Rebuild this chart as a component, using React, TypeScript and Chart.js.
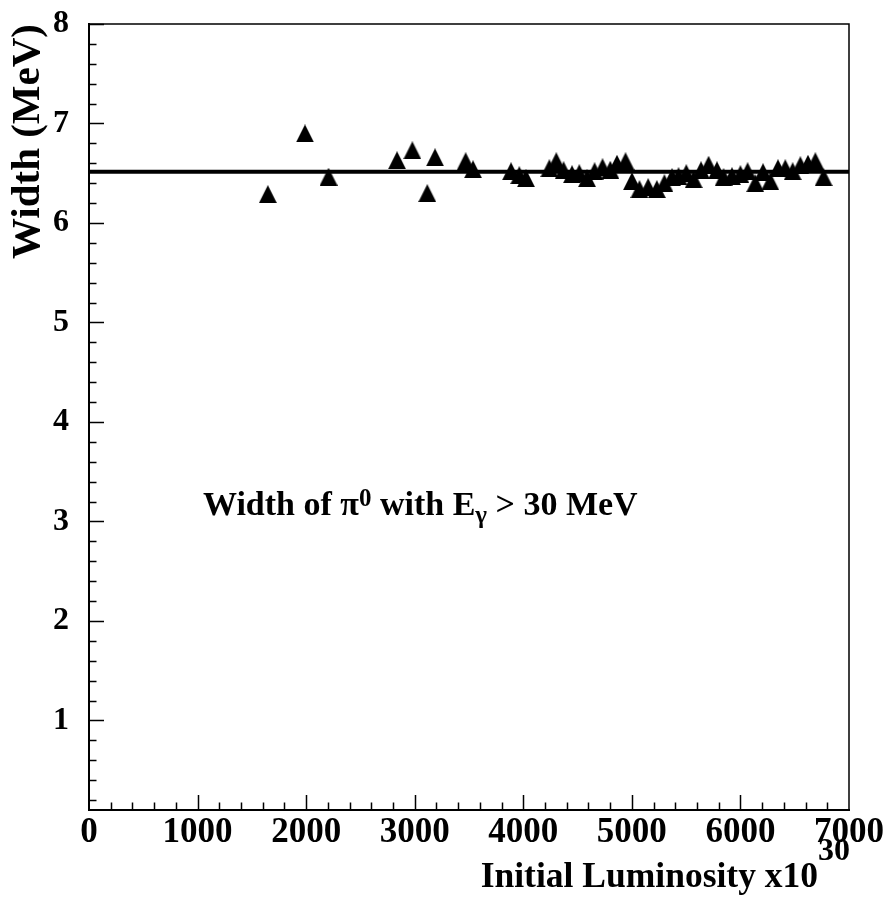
import React, { useEffect, useRef } from 'react';
import { Chart, registerables } from 'chart.js';

Chart.register(...registerables);

// ---- data ----
const lumi = [1647, 1989, 2206, 2837, 2978, 3116, 3187, 3469, 3537, 3887, 3963, 4025, 4240, 4304, 4371, 4449, 4516, 4587, 4657, 4730, 4801, 4863, 4942, 5001, 5070, 5150, 5230, 5300, 5370, 5430, 5501, 5569, 5637, 5707, 5784, 5845, 5922, 6000, 6066, 6137, 6208, 6275, 6346, 6413, 6481, 6552, 6622, 6690, 6766];
const widthMeV = [6.29, 6.9, 6.465, 6.63, 6.73, 6.3, 6.66, 6.62, 6.54, 6.52, 6.48, 6.45, 6.55, 6.62, 6.53, 6.49, 6.5, 6.45, 6.52, 6.56, 6.535, 6.595, 6.62, 6.42, 6.34, 6.36, 6.34, 6.4, 6.46, 6.47, 6.5, 6.44, 6.53, 6.585, 6.53, 6.46, 6.47, 6.49, 6.52, 6.4, 6.51, 6.42, 6.55, 6.55, 6.52, 6.58, 6.595, 6.62, 6.46];
const fitWidth = 6.515;

const xRange = [0, 7000];
const xStep = 200;
const xMajor = 1000;
const yRange = [0.1, 8];
const yStep = 0.2;
const yMajor = 1;

const yTitle = 'Width (MeV)';
const xTitleMain = 'Initial Luminosity x10';
const xTitleSup = '30';
const noteParts = ['Width of ', 'π', '0', ' with E', 'γ', ' > 30 MeV'];
const noteAnchor = { x: 1050, y: 3.07 };

const FONT = '"Liberation Serif", "Times New Roman", Times, serif';

function makeTriangle(size: number): HTMLCanvasElement {
  const c = document.createElement('canvas');
  c.width = size;
  c.height = size;
  const g = c.getContext('2d')!;
  g.fillStyle = '#000';
  g.beginPath();
  g.moveTo(0, size);
  g.lineTo(size, size);
  g.lineTo(size / 2, 0);
  g.closePath();
  g.fill();
  return c;
}

function isMultiple(v: number, m: number) {
  const r = v / m;
  return Math.abs(r - Math.round(r)) < 1e-6;
}

const framePlugin = {
  id: 'rootFrame',
  afterDraw(chart: any) {
    const { ctx, chartArea: a, scales } = chart;
    const xs = scales.x;
    const ys = scales.y;
    ctx.save();
    ctx.strokeStyle = '#000';
    // top and right frame
    ctx.lineWidth = 1.5;
    ctx.beginPath();
    ctx.moveTo(a.left, a.top);
    ctx.lineTo(a.right, a.top);
    ctx.lineTo(a.right, a.bottom);
    ctx.stroke();
    // inward ticks
    ctx.lineWidth = 1.5;
    ctx.beginPath();
    xs.ticks.forEach((t: any) => {
      const v = t.value;
      if (v <= xRange[0] || v >= xRange[1]) return;
      const px = Math.round(xs.getPixelForValue(v)) + 0.5;
      const len = isMultiple(v, xMajor) ? 15 : 7.5;
      ctx.moveTo(px, a.bottom);
      ctx.lineTo(px, a.bottom - len);
    });
    ys.ticks.forEach((t: any) => {
      const v = t.value;
      if (v <= yRange[0] + 1e-6) return;
      const py = Math.round(ys.getPixelForValue(v)) + 0.5;
      const len = isMultiple(v, yMajor) ? 15 : 7.5;
      ctx.moveTo(a.left, py);
      ctx.lineTo(a.left + len, py);
    });
    ctx.stroke();

    ctx.fillStyle = '#000';
    ctx.textBaseline = 'alphabetic';
    ctx.textAlign = 'left';

    // x-axis title with superscript, right aligned to the frame
    const mainFont = `bold 35.5px ${FONT}`;
    const supFont = `bold 32px ${FONT}`;
    ctx.font = supFont;
    const supW = ctx.measureText(xTitleSup).width;
    ctx.font = mainFont;
    const mainW = ctx.measureText(xTitleMain).width;
    const right = a.right + 1;
    const xBase = a.bottom + 77;
    ctx.fillText(xTitleMain, right - supW - mainW, xBase);
    ctx.font = supFont;
    ctx.fillText(xTitleSup, right - supW, xBase - 27);

    // annotation
    let x = xs.getPixelForValue(noteAnchor.x);
    const base = ys.getPixelForValue(noteAnchor.y);
    const big = `bold 34px ${FONT}`;
    const small = `bold 25px ${FONT}`;
    const styles = [
      { f: big, dy: 0 },
      { f: big, dy: 0 },
      { f: small, dy: -9 },
      { f: big, dy: 0 },
      { f: small, dy: 8 },
      { f: big, dy: 0 },
    ];
    noteParts.forEach((p, i) => {
      ctx.font = styles[i].f;
      ctx.fillText(p, x, base + styles[i].dy);
      x += ctx.measureText(p).width;
    });
    ctx.restore();
  },
};

export default function App() {
  const ref = useRef<HTMLCanvasElement | null>(null);
  useEffect(() => {
    if (!ref.current) return;
    const tri = makeTriangle(18);
    const points = lumi.map((v, i) => ({ x: v, y: widthMeV[i] }));
    const chart = new Chart(ref.current, {
      type: 'scatter',
      data: {
        datasets: [
          {
            type: 'line',
            label: 'fit',
            data: [
              { x: xRange[0], y: fitWidth },
              { x: xRange[1], y: fitWidth },
            ],
            borderColor: '#000',
            borderWidth: 4,
            pointRadius: 0,
            fill: false,
          } as any,
          {
            label: 'width',
            data: points,
            pointStyle: tri as any,
            pointRadius: 9,
            backgroundColor: '#000',
            borderColor: '#000',
          },
        ],
      },
      options: {
        responsive: false,
        animation: false,
        events: [],
        layout: { padding: { top: 24, right: 41, left: 0, bottom: 0 } },
        plugins: { legend: { display: false }, tooltip: { enabled: false } },
        scales: {
          x: {
            type: 'linear',
            min: xRange[0],
            max: xRange[1],
            grid: { drawOnChartArea: false, drawTicks: false },
            border: { display: true, color: '#000', width: 2 },
            ticks: {
              stepSize: xStep,
              autoSkip: false,
              maxRotation: 0,
              padding: 2,
              color: '#000',
              font: { family: FONT, size: 35, weight: 'bold', lineHeight: 1.2 },
              callback: (v: any) => (isMultiple(Number(v), xMajor) ? String(Math.round(Number(v))) : ''),
            },
            afterFit: (s: any) => {
              s.height = 89;
            },
          },
          y: {
            type: 'linear',
            min: yRange[0],
            max: yRange[1],
            grid: { drawOnChartArea: false, drawTicks: false },
            border: { display: true, color: '#000', width: 2 },
            title: {
              display: true,
              text: yTitle,
              align: 'end',
              color: '#000',
              font: { family: FONT, size: 41, weight: 'bold', lineHeight: 1.2 },
              padding: { top: 4, bottom: 0 },
            },
            ticks: {
              stepSize: yStep,
              autoSkip: false,
              padding: 20,
              color: '#000',
              font: { family: FONT, size: 32, weight: 'bold', lineHeight: 0.25 },
              callback: (v: any) => (isMultiple(Number(v), yMajor) ? String(Math.round(Number(v))) : ''),
            },
            afterFit: (s: any) => {
              s.width = 89;
            },
          },
        },
      },
      plugins: [framePlugin],
    });
    return () => chart.destroy();
  }, []);
  return (
    <div style={{ position: 'absolute', left: 0, top: 0, width: 890, height: 899, background: '#fff' }}>
      <canvas ref={ref} width={890} height={899} />
    </div>
  );
}
